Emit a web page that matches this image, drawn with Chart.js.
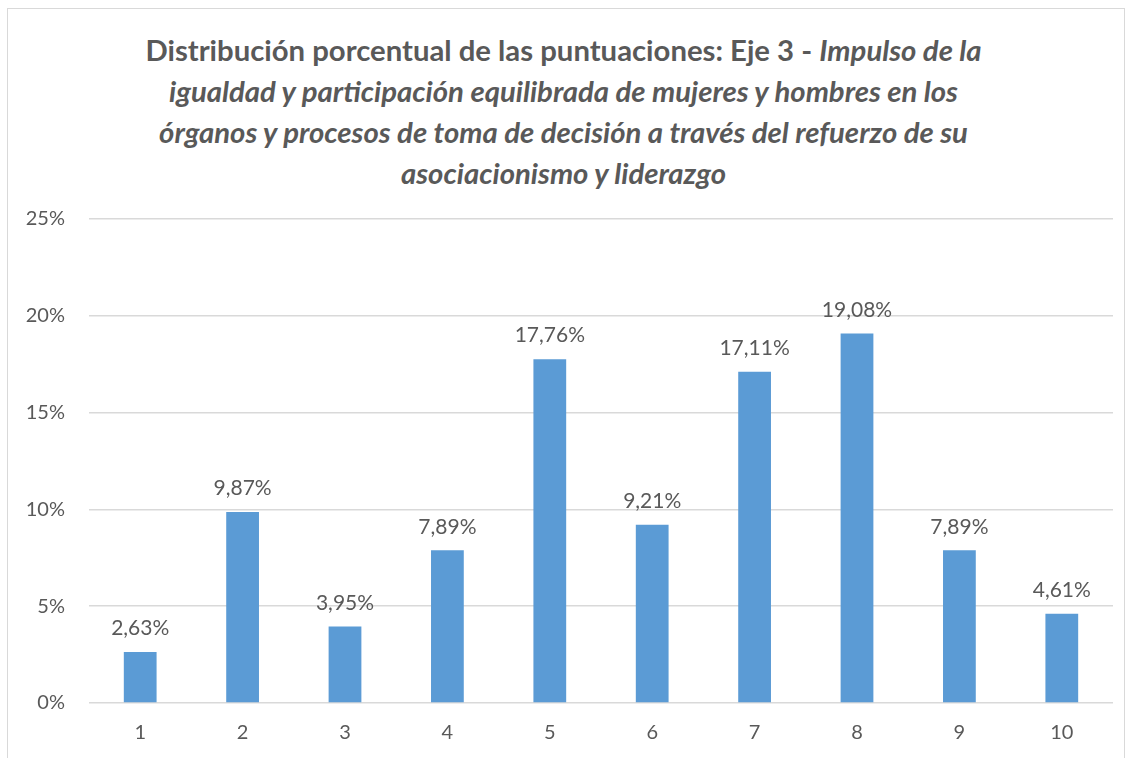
<!DOCTYPE html>
<html lang="es">
<head>
  <meta charset="UTF-8" />
  <title>Distribución porcentual de las puntuaciones</title>
  <script src="https://cdn.jsdelivr.net/npm/chart.js"></script>
  <style>
    body { margin: 0; background: #fff; }
    .marco {
      position: absolute; left: 7px; top: 8px; width: 1118px; height: 770px;
      border: 1px solid #d9d9d9; box-sizing: border-box;
    }
    .titulo {
      position: absolute; left: 0; top: 29px; width: 1127px;
      text-align: center; font-family: Lato, "Open Sans", sans-serif;
      font-weight: bold; font-size: 29.3px; line-height: 41px; color: #595959;
    }
    .titulo i { font-style: italic; }
    canvas { position: absolute; left: 0; top: 0; }
  </style>
</head>
<body>
  <div class="marco"></div>
  <div class="titulo">
    Distribución porcentual de las puntuaciones: Eje 3 - <i>Impulso de la</i><br>
    <i>igualdad y participación equilibrada de mujeres y hombres en los</i><br>
    <i>órganos y procesos de toma de decisión a través del refuerzo de su</i><br>
    <i>asociacionismo y liderazgo</i>
  </div>
  <canvas id="grafico" width="1131" height="758"></canvas>

  <script>
    // Datos del gráfico
    const puntuaciones = ['1', '2', '3', '4', '5', '6', '7', '8', '9', '10'];
    const porcentajes = [2.63, 9.87, 3.95, 7.89, 17.76, 9.21, 17.11, 19.08, 7.89, 4.61];

    const colorTexto = '#595959';
    const fuente = 'Lato, "Open Sans", sans-serif';

    // etiquetas encima de cada barra
    const etiquetasBarras = {
      id: 'etiquetasBarras',
      afterDatasetsDraw(chart) {
        const ctx = chart.ctx;
        const meta = chart.getDatasetMeta(0);
        ctx.save();
        ctx.font = '21px ' + fuente;
        ctx.fillStyle = colorTexto;
        ctx.textAlign = 'center';
        ctx.textBaseline = 'bottom';
        meta.data.forEach((barra, i) => {
          const texto = porcentajes[i].toFixed(2).replace('.', ',') + '%';
          ctx.fillText(texto, barra.x, barra.y - 13);
        });
        ctx.restore();
      }
    };

    new Chart(document.getElementById('grafico'), {
      type: 'bar',
      data: {
        labels: puntuaciones,
        datasets: [{
          data: porcentajes,
          backgroundColor: '#5b9bd5',
          barPercentage: 1,
          categoryPercentage: 0.32
        }]
      },
      options: {
        responsive: false,
        animation: false,
        layout: { padding: { top: 219, right: 18, bottom: 0, left: 0 } },
        plugins: {
          legend: { display: false },
          tooltip: { enabled: false }
        },
        scales: {
          x: {
            grid: { display: false, drawTicks: false },
            border: { display: false },
            ticks: { color: colorTexto, font: { family: fuente, size: 20 }, padding: 18 },
            afterFit(scale) { scale.height = 55; }
          },
          y: {
            min: 0,
            max: 25,
            grid: { color: '#d9d9d9', lineWidth: 1.5, drawTicks: false },
            border: { display: false },
            ticks: {
              stepSize: 5,
              color: colorTexto,
              font: { family: fuente, size: 20 },
              padding: 24,
              callback: v => v + '%'
            },
            afterFit(scale) { scale.width = 89; }
          }
        }
      },
      plugins: [etiquetasBarras]
    });
  </script>
</body>
</html>
